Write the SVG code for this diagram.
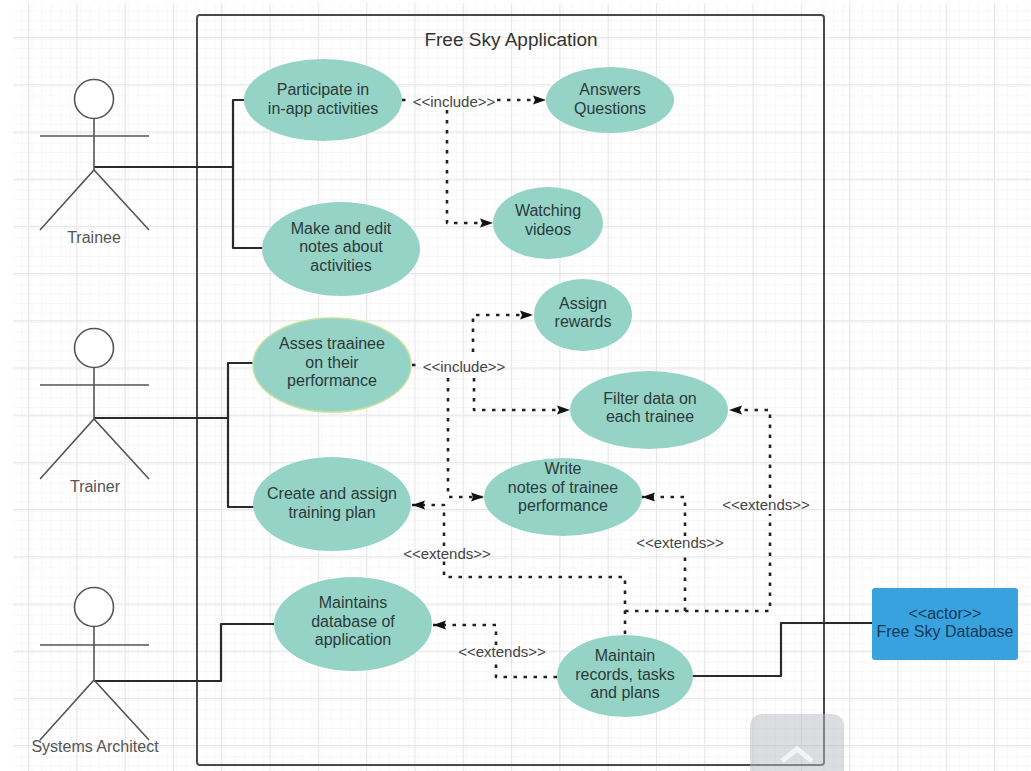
<svg xmlns="http://www.w3.org/2000/svg" width="1031" height="771" viewBox="0 0 1031 771">
<style>
text{font-family:"Liberation Sans",Arial,sans-serif;font-size:16px;fill:#2b3a3a;text-anchor:middle}
.lbl{font-size:15px;fill:#444}
.act{font-size:16px;fill:#555}
.u{fill:#96d3c7}
.a{fill:none;stroke:#555;stroke-width:1.6}
.c{fill:none;stroke:#2a2a2a;stroke-width:2.2;stroke-linejoin:round}
.d{fill:none;stroke:#222;stroke-width:2.6;stroke-dasharray:3.5 6.5;stroke-linejoin:round}
.da{marker-end:url(#arr)}
</style>
<defs>
<marker id="arr" markerUnits="userSpaceOnUse" markerWidth="14" markerHeight="10" refX="13" refY="5" orient="auto"><path d="M0,0.5 L13,5 L0,9.5 L2,5Z" fill="#111"/></marker>
<pattern id="minor" width="9.66" height="9.44" patternUnits="userSpaceOnUse" x="13" y="2"><path d="M9.66,0V9.44M0,9.44H9.66" fill="none" stroke="#efefef" stroke-width="1"/></pattern>
<pattern id="major" width="48.3" height="47.2" patternUnits="userSpaceOnUse" x="28" y="37"><path d="M0.5,0V47.2M0,0.5H48.3" fill="none" stroke="#e6e6e6" stroke-width="1.4"/></pattern>
</defs>
<rect width="1031" height="771" fill="#fff"/>
<rect x="13" y="3" width="1018" height="768" fill="url(#minor)"/>
<rect x="13" y="3" width="1018" height="768" fill="url(#major)"/>
<g id="boundary"><rect x="197" y="15" width="627" height="750" rx="3" fill="none" stroke="#4a4a4a" stroke-width="2"/><text x="511" y="46" style="font-size:19px;fill:#333">Free Sky Application</text></g>
<g id="scroll-button"><rect x="750" y="714" width="94" height="70" rx="12" fill="#b9bcc2" opacity="0.5"/><path d="M782,761L797,749L812,761" fill="none" stroke="#f4f4f4" stroke-width="5"/></g>
<g id="connectors">
<path class="c" d="M94,167H233M245,100H233V248H263"/>
<path class="c" d="M94,418H228M254,363H228V507H254"/>
<path class="c" d="M94,681H221V624H275"/>
<path class="c" d="M692,676H781V623H872"/>
<path class="d" d="M402,100H412"/>
<path class="d da" d="M497,100H546"/>
<path class="d da" d="M447,110V223H493"/>
<path class="d" d="M412,365H422"/>
<path class="d da" d="M473,352V315H533"/>
<path class="d da" d="M474,378V410H570"/>
<path class="d da" d="M448,378V497H484"/>
<path class="d" d="M625,634V577H444V561"/>
<path class="d da" d="M444,546V505H412"/>
<path class="d" d="M625,611H770V514"/>
<path class="d da" d="M770,498V410H729"/>
<path class="d" d="M685,611V552"/>
<path class="d da" d="M685,536V497H642"/>
<path class="d" d="M557,677H496V661"/>
<path class="d da" d="M496,645V625H433"/>
<text class="lbl" x="454" y="107">&lt;&lt;include&gt;&gt;</text>
<text class="lbl" x="464" y="372">&lt;&lt;include&gt;&gt;</text>
<text class="lbl" x="447" y="559">&lt;&lt;extends&gt;&gt;</text>
<text class="lbl" x="680" y="548">&lt;&lt;extends&gt;&gt;</text>
<text class="lbl" x="766" y="510">&lt;&lt;extends&gt;&gt;</text>
<text class="lbl" x="502" y="657">&lt;&lt;extends&gt;&gt;</text>
</g>
<g id="actor-trainee"><circle class="a" cx="94" cy="99" r="19.5" style="fill:#fff"/><path class="a" d="M94,118V170M40,136H149M40,230L94,170L149,230"/><text class="act" x="94" y="243">Trainee</text></g>
<g id="actor-trainer"><circle class="a" cx="94" cy="348" r="19.5" style="fill:#fff"/><path class="a" d="M94,367V419M40,385H149M40,479L94,419L149,479"/><text class="act" x="95" y="492">Trainer</text></g>
<g id="actor-architect"><circle class="a" cx="94" cy="607" r="19.5" style="fill:#fff"/><path class="a" d="M94,626V680M40,645H149M40,740L94,680L149,740"/><text class="act" x="95" y="752">Systems Architect</text></g>
<g id="uc-participate"><ellipse class="u" cx="323" cy="100" rx="79" ry="41"/><text x="323" y="95">Participate in</text><text x="323" y="114">in-app activities</text></g>
<g id="uc-notes"><ellipse class="u" cx="341" cy="249" rx="79" ry="47"/><text x="341" y="234">Make and edit</text><text x="341" y="252">notes about</text><text x="341" y="271">activities</text></g>
<g id="uc-assess"><ellipse class="u" cx="332" cy="365" rx="79" ry="47" stroke="#c5e0a0" stroke-width="1.5"/><text x="332" y="349">Asses traainee</text><text x="332" y="368">on their</text><text x="332" y="386">performance</text></g>
<g id="uc-plan"><ellipse class="u" cx="332" cy="504" rx="79" ry="47"/><text x="332" y="499">Create and assign</text><text x="332" y="518">training plan</text></g>
<g id="uc-database"><ellipse class="u" cx="353" cy="624" rx="79" ry="47"/><text x="353" y="608">Maintains</text><text x="353" y="627">database of</text><text x="353" y="645">application</text></g>
<g id="uc-answers"><ellipse class="u" cx="610" cy="100" rx="64" ry="33"/><text x="610" y="95">Answers</text><text x="610" y="114">Questions</text></g>
<g id="uc-watching"><ellipse class="u" cx="548" cy="223" rx="55" ry="36"/><text x="548" y="216">Watching</text><text x="548" y="235">videos</text></g>
<g id="uc-rewards"><ellipse class="u" cx="583" cy="315" rx="49" ry="36"/><text x="583" y="309">Assign</text><text x="583" y="327">rewards</text></g>
<g id="uc-filter"><ellipse class="u" cx="649" cy="410" rx="79" ry="39"/><text x="650" y="404">Filter data on</text><text x="650" y="422">each trainee</text></g>
<g id="uc-write"><ellipse class="u" cx="563" cy="497" rx="79" ry="39"/><text x="563" y="474">Write</text><text x="563" y="493">notes of trainee</text><text x="563" y="511">performance</text></g>
<g id="uc-records"><ellipse class="u" cx="625" cy="676" rx="68" ry="41"/><text x="625" y="661">Maintain</text><text x="625" y="680">records, tasks</text><text x="625" y="698">and plans</text></g>
<g id="db"><rect x="872" y="588" width="146" height="72" rx="3" fill="#38a2de"/><text x="945" y="619" style="fill:#123a5a">&lt;&lt;actor&gt;&gt;</text><text x="945" y="637" style="fill:#123a5a">Free Sky Database</text></g>
</svg>
